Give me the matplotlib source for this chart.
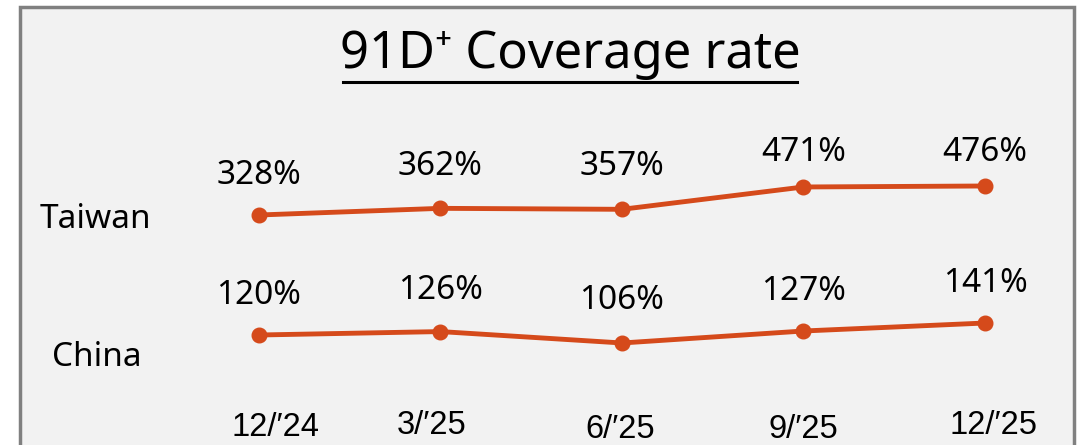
import numpy as np
import matplotlib.pyplot as plt
from matplotlib.patches import Rectangle
from matplotlib.lines import Line2D

quarters = ["12/′24", "3/′25", "6/′25", "9/′25", "12/′25"]
taiwan = [328, 362, 357, 471, 476]
china = [120, 126, 106, 127, 141]
series_names = ["Taiwan", "China"]

W, H = 1084, 445
fig = plt.figure(figsize=(W / 100, H / 100), dpi=100)
fig.patch.set_facecolor('white')

# gray panel with border
fig.patches.append(Rectangle((20 / W, -0.05), 1054 / W, (H - 7) / H + 0.05,
                             transform=fig.transFigure, facecolor='#f2f2f2',
                             edgecolor='#808080', linewidth=2.5, zorder=-5))

line_color = '#d54a1b'
x = np.arange(len(quarters))
xlim = (-259 / 181.5, (W - 259) / 181.5)

# each series gets its own full-figure axes with its own vertical scale
ax_tw = fig.add_axes([0, 0, 1, 1])
ax_cn = fig.add_axes([0, 0, 1, 1])
ax_tw.set_ylim(328 - 230 / 0.196, 328 + 215 / 0.196)
ax_cn.set_ylim(120 - 110 / 0.571, 120 + 335 / 0.571)

label_font = dict(family=['Noto Sans', 'DejaVu Sans'], fontsize=24, color='black')
tw_dy = [40, 42, 43, 34, 33]
cn_dy = [40, 41, 42, 40, 40]

for ax, vals, dys in [(ax_tw, taiwan, tw_dy), (ax_cn, china, cn_dy)]:
    ax.set_xlim(*xlim)
    ax.axis('off')
    ax.patch.set_alpha(0)
    ax.plot(x, vals, color=line_color, linewidth=3.5, marker='o', markersize=10.5,
            solid_capstyle='round', zorder=3)
    for xi, v, dy in zip(x, vals, dys):
        ax.annotate(f"{v}%", (xi, v), xytext=(0, dy * 0.72), textcoords='offset points',
                    ha='center', va='center', **label_font)

# series names on the left
fig.text(95 / W, 1 - 219 / H, series_names[0], ha='center', va='center', **label_font)
fig.text(97 / W, 1 - 358 / H, series_names[1], ha='center', va='center', **label_font)

# quarter labels along the bottom
tick_x = [275, 432, 620, 803, 993]
tick_y = [428, 426, 430, 430, 426]
for q, tx, ty in zip(quarters, tick_x, tick_y):
    fig.text(tx / W, 1 - ty / H, q, ha='center', va='center',
             family=['Liberation Sans', 'DejaVu Sans'], fontsize=23.5, color='black')

# underlined title
fig.text(570 / W, 1 - 55 / H, "91D⁺ Coverage rate", ha='center', va='center',
         family=['Noto Sans', 'DejaVu Sans'], fontsize=36.5, color='black')
fig.lines.append(Line2D([343 / W, 797 / W], [1 - 82 / H, 1 - 82 / H],
                        transform=fig.transFigure, color='black', linewidth=2.2))

plt.savefig('out.png', dpi=100)
